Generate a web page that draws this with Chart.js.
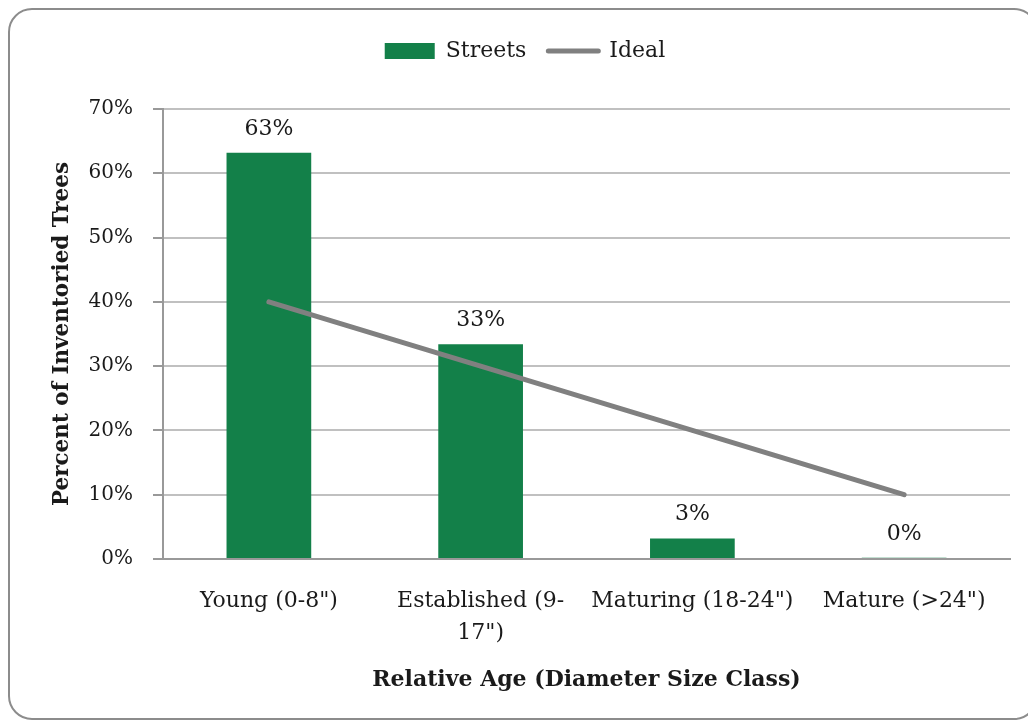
<!DOCTYPE html>
<html>
<head>
<meta charset="utf-8">
<script src="https://cdn.jsdelivr.net/npm/chart.js@4/dist/chart.umd.min.js"></script>
<style>
  html, body { margin: 0; padding: 0; background: #ffffff; overflow: hidden; }
  #frame { position: absolute; left: 8px; top: 8px; width: 1030px; height: 712px;
           border: 2px solid #8c8c8c; border-radius: 24px; box-sizing: border-box; }
  #wrap { position: absolute; left: 0; top: 0; width: 1028px; height: 721px; }
</style>
</head>
<body>
<div id="frame"></div>
<div id="wrap"><canvas id="c" width="1028" height="721"></canvas></div>
<script>
const categories = ["Young (0-8\")", ["Established (9-", "17\")"], "Maturing (18-24\")", "Mature (>24\")"];
const streetsValues = [63.2, 33.4, 3.2, 0.2];
const idealValues = [40, 30, 20, 10];
const yTicks = [0, 10, 20, 30, 40, 50, 60, 70];
const seriesNames = ["Streets", "Ideal"];
const axisTitles = { x: "Relative Age (Diameter Size Class)", y: "Percent of Inventoried Trees" };

const FONT = "'DejaVu Serif', 'Liberation Serif', serif";
const GREEN = "#138049";
const GRAY_LINE = "#808080";

const barLabels = {
  id: 'barLabels',
  afterDatasetsDraw(chart) {
    const meta = chart.getDatasetMeta(0);
    const ctx = chart.ctx;
    ctx.save();
    ctx.font = "22px " + FONT;
    ctx.fillStyle = "#1a1a1a";
    ctx.textAlign = "center";
    ctx.textBaseline = "alphabetic";
    meta.data.forEach((el, i) => {
      ctx.fillText(Math.round(streetsValues[i]) + "%", el.x, el.y - 18);
    });
    ctx.restore();
  }
};

const legendGap = {
  id: 'legendGap',
  beforeInit(chart) {
    const origFit = chart.legend.fit;
    chart.legend.fit = function () {
      origFit.call(this);
      this.height += 37;
    };
  }
};

new Chart(document.getElementById('c'), {
  data: {
    labels: categories,
    datasets: [
      { type: 'bar', label: seriesNames[0], data: streetsValues, backgroundColor: GREEN,
        borderWidth: 0, categoryPercentage: 1.0, barPercentage: 0.4, order: 1 },
      { type: 'line', label: seriesNames[1], data: idealValues, borderColor: GRAY_LINE,
        backgroundColor: GRAY_LINE, borderWidth: 5, pointRadius: 0, borderCapStyle: 'round',
        tension: 0, order: 0 }
    ]
  },
  options: {
    responsive: false,
    animation: false,
    devicePixelRatio: 1,
    layout: { padding: { left: 40, right: 18, top: 18, bottom: 18 } },
    plugins: {
      tooltip: { enabled: false },
      legend: {
        position: 'top',
        labels: {
          font: { family: FONT, size: 22 },
          color: '#1a1a1a',
          boxWidth: 50,
          boxHeight: 16,
          padding: 22,
          usePointStyle: true,
          pointStyleWidth: 50,
          generateLabels(chart) {
            return chart.data.datasets.map((ds, i) => ({
              text: ds.label,
              datasetIndex: i,
              fillStyle: i === 0 ? GREEN : GRAY_LINE,
              strokeStyle: i === 0 ? GREEN : GRAY_LINE,
              lineWidth: i === 0 ? 0 : 5,
              lineCap: 'round',
              pointStyle: i === 0 ? 'rect' : 'line',
              hidden: false,
              fontColor: '#1a1a1a'
            }));
          }
        }
      }
    },
    scales: {
      x: {
        offset: true,
        grid: { display: false },
        border: { display: true, color: '#999999', width: 2 },
        ticks: { font: { family: FONT, size: 22, lineHeight: 1.45 }, color: '#1a1a1a', padding: 18, maxRotation: 0, autoSkip: false },
        title: { display: true, text: axisTitles.x, font: { family: FONT, size: 22, weight: 'bold' }, color: '#1a1a1a', padding: { top: 10, bottom: 10 } },
        afterFit(scale) { scale.height = 721 - 18 - 559; }
      },
      y: {
        min: 0, max: 70,
        afterBuildTicks(scale) { scale.ticks = yTicks.map(v => ({ value: v })); },
        grid: { color: '#c0c0c0', lineWidth: 2, tickLength: 10, tickColor: '#999999' },
        border: { display: true, color: '#999999', width: 2 },
        ticks: { font: { family: FONT, size: 20 }, color: '#1a1a1a', padding: 20, callback: v => v + '%' },
        title: { display: true, text: axisTitles.y, font: { family: FONT, size: 21.5, weight: 'bold' }, color: '#1a1a1a', padding: { top: 10, bottom: 0 } },
        afterFit(scale) { scale.width = 163 - 40; }
      }
    }
  },
  plugins: [barLabels, legendGap]
});
</script>
</body>
</html>
